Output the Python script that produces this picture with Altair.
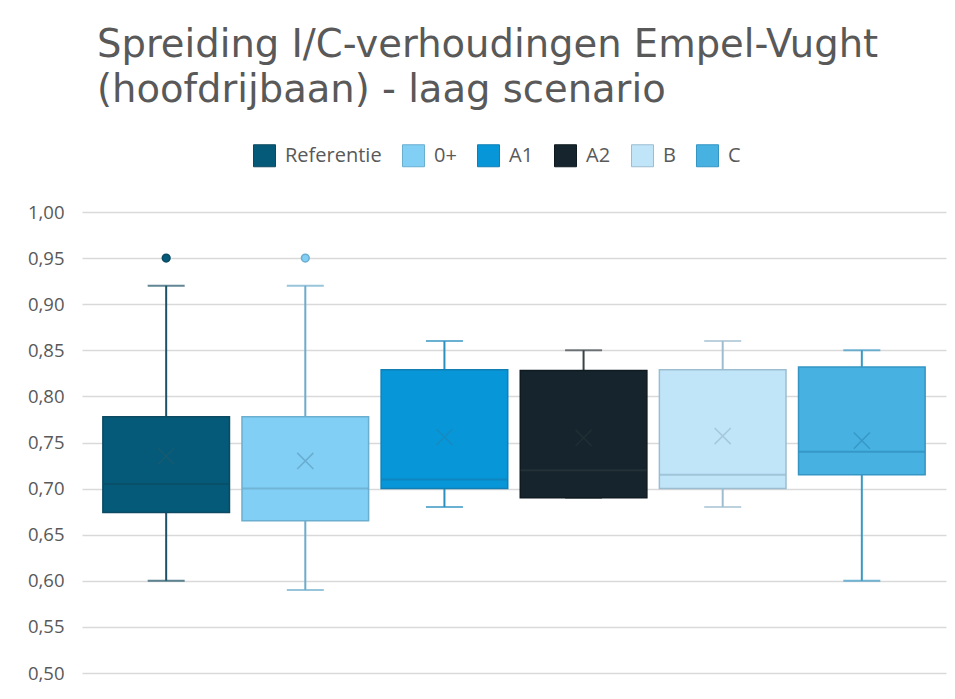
import altair as alt
import pandas as pd

categories = ["Referentie", "0+", "A1", "A2", "B", "C"]
whisker_low = [0.60, 0.59, 0.68, 0.69, 0.68, 0.60]
q1 = [0.674, 0.665, 0.700, 0.690, 0.700, 0.715]
median = [0.705, 0.700, 0.710, 0.720, 0.715, 0.740]
q3 = [0.778, 0.778, 0.829, 0.828, 0.829, 0.832]
whisker_high = [0.92, 0.92, 0.86, 0.85, 0.86, 0.85]
mean = [0.735, 0.730, 0.756, 0.755, 0.757, 0.752]
outlier_cat = ["Referentie", "0+"]
outlier_val = [0.95, 0.95]

fill_colors = ["#045a78", "#82cff5", "#0797d8", "#16252d", "#c0e5f9", "#47b1e2"]
edge_colors = ["#0b4a60", "#6aaed0", "#127fb4", "#0e1a20", "#9cbdd0", "#3596c3"]
whisker_colors = ["#1d5266", "#6eaccc", "#2b8fc0", "#3a4348", "#9ebdd0", "#3a98c4"]
median_colors = ["#0a4c63", "#69a8c9", "#117fb5", "#2a353b", "#93b6cb", "#2f8dba"]
mean_colors = ["#1f5b70", "#5f9fc3", "#1d86b8", "#263238", "#9bbccf", "#328fbc"]

df = pd.DataFrame({
    "cat": categories, "lo": whisker_low, "q1": q1, "med": median,
    "q3": q3, "hi": whisker_high, "mean": mean,
    "wc": whisker_colors, "mc": median_colors, "xc": mean_colors,
})
out_fill = dict(zip(categories, fill_colors))
out_edge = dict(zip(categories, edge_colors))
out_df = pd.DataFrame({"cat": outlier_cat, "val": outlier_val,
                       "oc": [out_fill[c] for c in outlier_cat],
                       "os": [out_edge[c] for c in outlier_cat]})

x_enc = alt.X("cat:N", sort=categories, axis=None,
              scale=alt.Scale(domain=categories, paddingInner=0.09, paddingOuter=0.15))
y_scale = alt.Scale(domain=[0.5, 1.0], nice=False, zero=False)

base = alt.Chart(df)

whisk = base.mark_rule(strokeWidth=2).encode(
    x=x_enc,
    y=alt.Y("lo:Q", scale=y_scale,
            axis=alt.Axis(values=[0.5, 0.55, 0.6, 0.65, 0.7, 0.75, 0.8, 0.85, 0.9, 0.95, 1.0],
                          labelExpr="replace(format(datum.value, '.2f'), '.', ',')",
                          title=None, domain=False, ticks=False, grid=True,
                          gridColor="#d9d9d9", gridWidth=1.5,
                          labelFontSize=18.5, labelColor="#595959", labelFont="Open Sans",
                          labelPadding=18)),
    y2="hi:Q",
    color=alt.Color("wc:N", scale=None),
)
cap_lo = base.mark_tick(size=37, thickness=2).encode(
    x=x_enc, y=alt.Y("lo:Q", scale=y_scale), color=alt.Color("wc:N", scale=None))
cap_hi = base.mark_tick(size=37, thickness=2).encode(
    x=x_enc, y=alt.Y("hi:Q", scale=y_scale), color=alt.Color("wc:N", scale=None))

leg = dict(title=None, orient="none", direction="horizontal",
           legendX=171, legendY=-68,
           symbolType="square", symbolSize=484,
           symbolStrokeWidth=1, labelFontSize=20,
           labelFont="Open Sans", labelColor="#595959",
           labelOffset=9, columnPadding=18)

box = base.mark_bar(strokeWidth=1.5).encode(
    x=x_enc,
    y=alt.Y("q1:Q", scale=y_scale),
    y2="q3:Q",
    fill=alt.Fill("cat:N", sort=categories,
                  scale=alt.Scale(domain=categories, range=fill_colors),
                  legend=alt.Legend(**leg)),
    stroke=alt.Stroke("cat:N", sort=categories,
                      scale=alt.Scale(domain=categories, range=edge_colors),
                      legend=alt.Legend(**leg)),
)

med = base.mark_tick(size=126, thickness=2).encode(
    x=x_enc, y=alt.Y("med:Q", scale=y_scale), color=alt.Color("mc:N", scale=None))

mean_pt = base.mark_point(shape="M-1,-1L1,1M1,-1L-1,1", size=260, filled=False,
                          strokeWidth=1.5).encode(
    x=x_enc, y=alt.Y("mean:Q", scale=y_scale), color=alt.Color("xc:N", scale=None))

outl = alt.Chart(out_df).mark_point(shape="circle", size=60, filled=False, opacity=1,
                                    strokeWidth=1.5).encode(
    x=x_enc, y=alt.Y("val:Q", scale=y_scale),
    fill=alt.Fill("oc:N", scale=None),
    stroke=alt.Stroke("os:N", scale=None))

chart = alt.layer(whisk, cap_lo, cap_hi, box, med, mean_pt, outl).resolve_scale(
    fill="independent", stroke="independent"
).properties(
    width=864, height=461,
    autosize=alt.AutoSizeParams(type="none"),
    padding={"left": 74, "top": 204, "right": 1, "bottom": 20},
    title=alt.TitleParams(
        text=["Spreiding I/C-verhoudingen Empel-Vught", "(hoofdrijbaan) - laag scenario"],
        anchor="start", frame="group", dx=15, offset=34,
        font="DejaVu Sans", fontSize=38.5, fontWeight="normal",
        color="#595959", lineHeight=45),
).configure(background="white", view=alt.ViewConfig(strokeWidth=0, stroke="transparent"))

chart.save("out.html", embed_options={"renderer": "svg", "actions": False})
